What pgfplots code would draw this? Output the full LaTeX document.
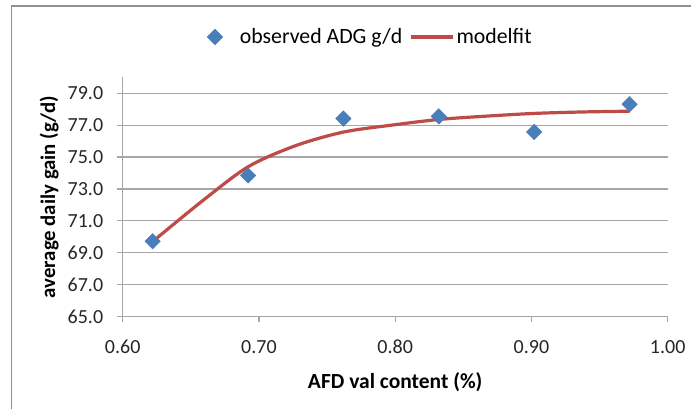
\documentclass[border=0pt]{standalone}
\usepackage{fontspec}
\setmainfont{Carlito}
\usepackage{pgfplots}
\pgfplotsset{compat=1.18}

\definecolor{obsblue}{HTML}{4A7EBB}
\definecolor{fitred}{HTML}{BE4B48}
\definecolor{gridgray}{HTML}{A6A6A6}
\definecolor{framegray}{HTML}{8C9292}

\pgfplotsset{
    diamond legend/.style={legend image code/.code={\draw[mark repeat=2, mark phase=2, ##1]
        plot coordinates {(0pt,0pt) (8pt,0pt) (16pt,0pt)};
        \path[draw=none, fill=none] (0.2pt,0pt) -- (30.8pt,0pt);}},
    long line legend/.style={legend image code/.code={\draw[##1] (0pt,0pt) -- (42pt,0pt);}},
}

\begin{document}
\begin{tikzpicture}[x=1pt,y=1pt]
\useasboundingbox (0,0) rectangle (691,409);
% chart frame (only left and top edge inside the crop)
\draw[framegray, line width=1.6pt] (11.5,-10) -- (11.5,403) -- (700,403);
\begin{axis}[
    at={(122.7pt,92.5pt)}, anchor=south west,
    scale only axis,
    width=545pt, height=239.1pt,
    xmin=0.6, xmax=1.0, ymin=65, ymax=80,
    xtick={0.6,0.7,0.8,0.9,1.0},
    ytick={65,67,69,71,73,75,77,79},
    axis x line*=bottom, axis y line*=left,
    axis line style={gridgray, line width=1.2pt, -},
    tick style={gridgray, line width=1.2pt},
    tick align=outside,
    major tick length=6pt,
    ymajorgrids,
    major grid style={gridgray, line width=1.2pt},
    /pgf/number format/assume math mode=true,
    xticklabel style={yshift=-14pt, /pgf/number format/.cd, fixed, fixed zerofill, precision=2},
    yticklabel style={xshift=-10pt, /pgf/number format/.cd, fixed, fixed zerofill, precision=1},
    ticklabel style={font=\fontsize{20}{24}\selectfont, text=black!85},
    xlabel={AFD val content (\%)},
    ylabel={average daily gain (g/d)},
    every axis y label/.style={at={(axis description cs:-0.135,0.5)}, rotate=90, anchor=center,
        font=\fontsize{20.8}{24}\selectfont\bfseries},
    every axis x label/.style={at={(axis description cs:0.5,-0.274)}, anchor=center,
        font=\fontsize{21.5}{24}\selectfont\bfseries},
    legend style={at={(axis description cs:0.4545,1.169)}, anchor=center,
        draw=none, fill=none, font=\fontsize{21.8}{24}\selectfont,
        legend columns=2,
        /tikz/every even column/.append style={column sep=5pt}},
    legend cell align=left,
]
\addplot[only marks, mark=square*, mark size=5.5pt,
    mark options={rotate=45, fill=obsblue, draw=obsblue}, diamond legend]
coordinates {
    (0.622,69.72) (0.692,73.85) (0.762,77.42) (0.832,77.55) (0.902,76.58) (0.972,78.32)
};
\addlegendentry{observed ADG g/d}
\addplot[fitred, line width=3.2pt, smooth, tension=0.5, no marks, long line legend]
coordinates {
    (0.622,69.70) (0.657,72.15) (0.692,74.39) (0.727,75.72) (0.762,76.57)
    (0.797,77.00) (0.832,77.36) (0.867,77.57) (0.902,77.74) (0.937,77.83)
    (0.972,77.88)
};
\addlegendentry{modelfit}
\end{axis}
\end{tikzpicture}
\end{document}
